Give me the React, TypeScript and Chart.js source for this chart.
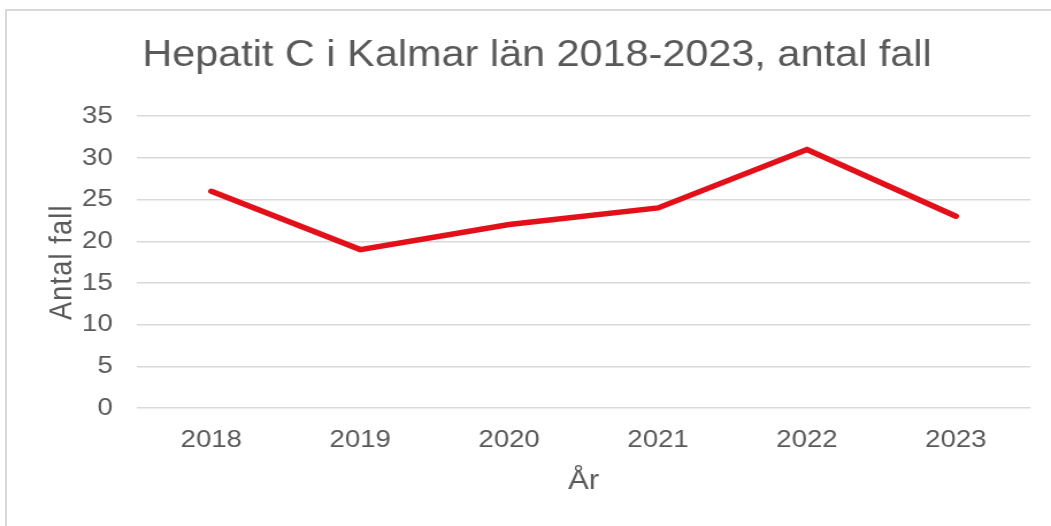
import React, { useEffect, useRef } from "react";
import { Chart, registerables, LinearScale } from "chart.js";

class SpacedLinearScale extends LinearScale {
  static id = "spacedLinear";
  static defaults = LinearScale.defaults;
  drawTitle() {
    const ctx: any = (this as any).ctx;
    ctx.save();
    ctx.letterSpacing = "1.2px";
    super.drawTitle();
    ctx.restore();
  }
}

Chart.register(...registerables, SpacedLinearScale);

const years = ["2018", "2019", "2020", "2021", "2022", "2023"];
const cases = [26, 19, 22, 24, 31, 23];
const titleText = "Hepatit C i Kalmar län 2018-2023, antal fall";
const yTitle = "Antal fall";
const xTitle = "År";

const TEXT = "#595959";
const GRID = "#d9d9d9";
const FONT = "'Liberation Sans', Arial, sans-serif";

const W = 1051;
const H = 526;
const INNER_W = 914;
const SX = W / INNER_W;

export default function App() {
  const ref = useRef<HTMLCanvasElement | null>(null);

  useEffect(() => {
    if (!ref.current) return;
    const chart = new Chart(ref.current, {
      type: "line",
      data: {
        labels: years,
        datasets: [
          {
            data: cases,
            borderColor: "#e3101a",
            backgroundColor: "#e3101a",
            borderWidth: 5.5,
            borderCapStyle: "round",
            borderJoinStyle: "miter",
            pointRadius: 0,
            tension: 0,
            fill: false,
          },
        ],
      },
      options: {
        animation: false,
        responsive: false,
        layout: { padding: { left: 38, right: 18, top: 0, bottom: 0 } },
        plugins: {
          legend: { display: false },
          tooltip: { enabled: false },
          title: {
            display: true,
            text: titleText,
            color: TEXT,
            font: { family: FONT, size: 36, weight: "normal" },
            padding: { top: 34, bottom: 39 },
          },
        },
        scales: {
          x: {
            offset: true,
            grid: { display: false, drawTicks: false },
            border: { display: false },
            ticks: {
              color: TEXT,
              font: { family: FONT, size: 24 },
              padding: 18,
              maxRotation: 0,
            },
            title: {
              display: true,
              text: xTitle,
              color: TEXT,
              font: { family: FONT, size: 27 },
              padding: { top: 0, bottom: 28 },
            },
            afterFit(scale: any) {
              scale.height = 118;
            },
          },
          y: {
            type: "spacedLinear",
            min: 0,
            max: 35,
            ticks: {
              stepSize: 5,
              color: TEXT,
              font: { family: FONT, size: 24 },
              padding: 21,
            },
            grid: { color: GRID, lineWidth: 1.5, drawTicks: false },
            border: { display: false },
            title: {
              display: true,
              text: yTitle,
              color: TEXT,
              font: { family: FONT, size: 27 },
              padding: { top: 0, bottom: 0 },
            },
            afterFit(scale: any) {
              scale.width = 81;
            },
          },
        },
      },
    } as any);
    return () => chart.destroy();
  }, []);

  return (
    <div
      style={{
        position: "fixed",
        left: 0,
        top: 0,
        width: W,
        height: H,
        overflow: "hidden",
        background: "#fff",
      }}
    >
      <canvas
        ref={ref}
        width={INNER_W}
        height={H}
        style={{
          position: "absolute",
          left: 0,
          top: 0,
          width: INNER_W,
          height: H,
          transform: `scaleX(${SX})`,
          transformOrigin: "0 0",
        }}
      />
      <div
        style={{
          position: "absolute",
          left: 5,
          top: 9,
          width: 1100,
          height: 600,
          borderTop: `2px solid ${GRID}`,
          borderLeft: `2px solid ${GRID}`,
          pointerEvents: "none",
        }}
      />
    </div>
  );
}
